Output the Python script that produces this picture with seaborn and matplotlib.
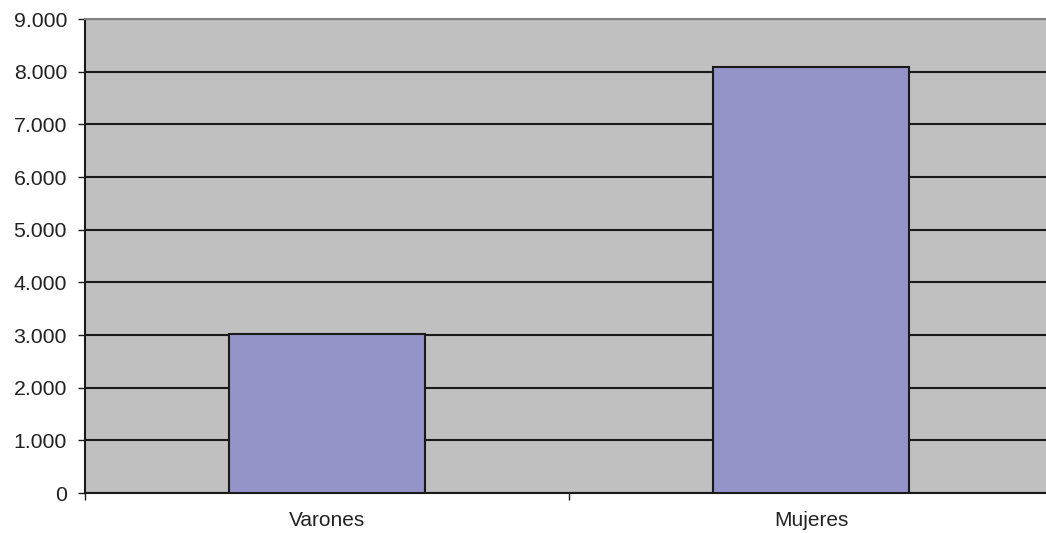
import matplotlib
matplotlib.use('Agg')
import matplotlib.pyplot as plt
import matplotlib.ticker as mticker
import seaborn as sns
import pandas as pd

categories = ['Varones', 'Mujeres']
values = [3010, 8080]

df = pd.DataFrame({'sexo': categories, 'total': values})

sns.set_style('white')
plt.rcParams['font.family'] = ['Liberation Sans', 'DejaVu Sans']

fig = plt.figure(figsize=(10.46, 5.33), dpi=100)
ax = fig.add_axes([0.0813, 0.075, 0.9254, 0.8893])
ax.set_facecolor('#c0c0c0')

sns.barplot(x='sexo', y='total', data=df, color='#9494c8', saturation=1,
            width=0.405, edgecolor='#1a1a1a', linewidth=1.5, ax=ax, zorder=3)

ax.set_ylim(0, 9000)
ax.set_yticks(range(0, 9001, 1000))
ax.yaxis.set_major_formatter(mticker.FuncFormatter(lambda v, p: f'{int(v):,}'.replace(',', '.')))
ax.grid(axis='y', color='#1a1a1a', linewidth=1.5, zorder=1)
ax.set_axisbelow(True)

ax.set_xlim(-0.5, 1.5)
ax.set_xticks([-0.5, 0.5, 1.5])
ax.set_xticklabels(['', '', ''])
ax.set_xticks([0, 1], minor=True)
ax.set_xticklabels(categories, minor=True)
ax.tick_params(axis='x', which='minor', bottom=False, pad=11, labelsize=15, labelcolor='#222222')
ax.tick_params(axis='x', which='major', bottom=True, length=5, width=1, color='#1a1a1a', direction='out')
ax.tick_params(axis='y', length=5, width=1, color='#1a1a1a', pad=8, labelsize=15.3, labelcolor='#222222', left=True)

ax.set_xlabel('')
ax.set_ylabel('')
for side in ['left', 'bottom']:
    ax.spines[side].set_color('#1a1a1a')
    ax.spines[side].set_linewidth(1.5)
ax.spines['top'].set_color('#808080')
ax.spines['top'].set_linewidth(1.5)
ax.spines['right'].set_visible(False)

fig.savefig('out.png', dpi=100, facecolor='white')
